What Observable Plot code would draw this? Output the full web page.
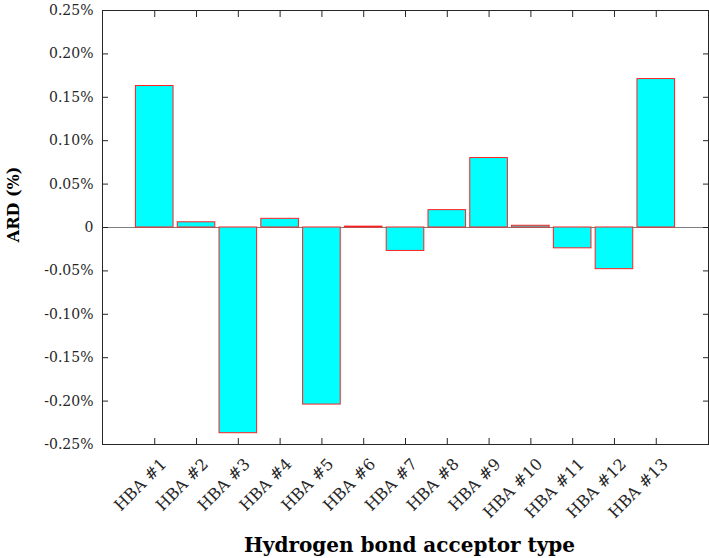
<!DOCTYPE html>
<html><head><meta charset="utf-8">
<script src="https://cdn.jsdelivr.net/npm/d3@7"></script>
<script src="https://cdn.jsdelivr.net/npm/@observablehq/plot@0.6"></script>
<style>body{margin:0;background:#fff}</style>
</head><body><div id="chart"></div>
<script>
const categories = ["HBA #1","HBA #2","HBA #3","HBA #4","HBA #5","HBA #6","HBA #7","HBA #8","HBA #9","HBA #10","HBA #11","HBA #12","HBA #13"];
const ardValues = [0.163, 0.006, -0.237, 0.010, -0.204, 0.001, -0.027, 0.020, 0.080, 0.002, -0.024, -0.048, 0.171];
const yTicks = [-0.25, -0.2, -0.15, -0.1, -0.05, 0, 0.05, 0.1, 0.15, 0.2, 0.25];
const yTickLabels = ["-0.25%","-0.20%","-0.15%","-0.10%","-0.05%","0","0.05%","0.10%","0.15%","0.20%","0.25%"];
const xTitle = "Hydrogen bond acceptor type";
const yTitle = "ARD (%)";

const data = categories.map((c, i) => ({category: c, ard: ardValues[i]}));
const labelMap = new Map(yTicks.map((t, i) => [t, yTickLabels[i]]));
const fmt = v => labelMap.has(v) ? labelMap.get(v) : String(v);

const chart = Plot.plot({
  width: 709, height: 558,
  marginLeft: 102, marginRight: 1, marginTop: 10, marginBottom: 114,
  style: {fontFamily: "'DejaVu Serif', serif", fontSize: "14px", color: "#262626", background: "#fff"},
  x: {type: "band", domain: categories, paddingInner: 0.1, paddingOuter: 0.8, round: false},
  y: {domain: [-0.25, 0.25]},
  marks: [
    Plot.ruleY([0], {stroke: "#7f7f7f", strokeWidth: 1.2}),
    Plot.barY(data, {x: "category", y: "ard", fill: "#00ffff", stroke: "#ff2020", strokeWidth: 1}),
    Plot.frame({stroke: "#262626"}),
    Plot.axisY({anchor: "left", ticks: yTicks, tickSize: -6, tickPadding: 15, tickFormat: fmt, label: null, fontSize: 14}),
    Plot.axisY({anchor: "right", ticks: yTicks, tickSize: -6, tickFormat: () => "", label: null}),
    Plot.axisX({anchor: "top", tickSize: -6, tickFormat: () => "", label: null}),
    Plot.axisX({anchor: "bottom", tickSize: -6, tickFormat: () => "", label: null}),
    Plot.axisX({anchor: "bottom", tickSize: 0, tickPadding: 17, tickRotate: -45, dx: 9, label: null, fontSize: 16}),
    Plot.text([yTitle], {text: d => d, frameAnchor: "left", textAnchor: "middle", lineAnchor: "middle", dx: -89, dy: -23, rotate: -90, fontWeight: "bold", fontSize: 16, fill: "#000"}),
    Plot.text([xTitle], {text: d => d, frameAnchor: "bottom", textAnchor: "middle", lineAnchor: "middle", dx: 4, dy: 101, fontWeight: "bold", fontSize: 20, fill: "#000"})
  ]
});
document.getElementById("chart").appendChild(chart);
</script>
</body></html>
